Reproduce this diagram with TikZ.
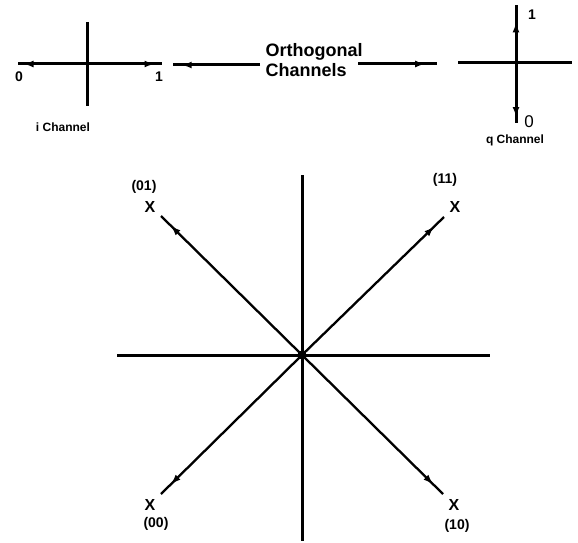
\documentclass[tikz,border=0pt]{standalone}
\usepackage{fontspec}
\setmainfont{Liberation Sans}
\usetikzlibrary{arrows.meta, decorations.markings}

\tikzset{
  axis/.style={line width=3pt},
  diag/.style={line width=2.3pt},
  lbl/.style={font=\bfseries\fontsize{14}{15}\selectfont, inner sep=1pt},
  small/.style={font=\bfseries\fontsize{12}{13}\selectfont, inner sep=1pt},
  bigx/.style={font=\bfseries\fontsize{16}{17}\selectfont, inner sep=1pt},
  tipat/.style={postaction={decorate}, decoration={markings,
      mark=at position #1 with {\arrow{Latex[length=10pt,width=7pt]}}}}
}

\begin{document}
\begin{tikzpicture}[x=1pt, y=-1pt]
  \useasboundingbox (0,0) rectangle (578,543);

  % i channel
  \coordinate (iL) at (18,64);
  \coordinate (iR) at (162,64);
  \coordinate (iT) at (87,22);
  \coordinate (iB) at (87,106);
  \coordinate (ic) at (87,64);
  \draw[axis, tipat=0.92] (ic) -- (iL);
  \draw[axis, tipat=0.9] (ic) -- (iR);
  \draw[axis] (iT) -- (iB);
  \node[lbl] (zeroi) at (19,77) {0};
  \node[lbl] (onei) at (159,77) {1};
  \node[small] (ich) at (63,127) {i Channel};

  % orthogonal channels
  \node[lbl, font=\bfseries\fontsize{18}{20}\selectfont, align=left] (orth) at (314,60) {Orthogonal\\Channels};
  \coordinate (oL) at (173,65);
  \coordinate (oLs) at (260,65);
  \coordinate (oR) at (437,64);
  \coordinate (oRs) at (358,64);
  \draw[axis, tipat=0.9] (oLs) -- (oL);
  \draw[axis, tipat=0.85] (oRs) -- (oR);

  % q channel
  \coordinate (qL) at (458,63);
  \coordinate (qR) at (572,63);
  \coordinate (qT) at (516,5);
  \coordinate (qB) at (516,123);
  \coordinate (qc) at (516,63);
  \draw[axis] (qL) -- (qR);
  \draw[axis, tipat=0.7] (qc) -- (qT);
  \draw[axis, tipat=0.9] (qc) -- (qB);
  \node[lbl] (oneq) at (532,15) {1};
  \node[lbl, font=\fontsize{17}{18}\selectfont] (zeroq) at (529,122) {0};
  \node[small] (qch) at (515,140) {q Channel};

  % constellation
  \coordinate (o) at (302,355);
  \coordinate (top) at (302,175);
  \coordinate (bot) at (302,541);
  \coordinate (lft) at (117,355);
  \coordinate (rgt) at (490,355);
  \draw[axis] (top) -- (bot);
  \draw[axis] (lft) -- (rgt);
  \fill (o) circle (4.5pt);

  \node[bigx] (x01) at (150,207) {X};
  \node[bigx] (x11) at (455,207) {X};
  \node[bigx] (x00) at (150,505) {X};
  \node[bigx] (x10) at (454,505) {X};
  \node[lbl] (l01) at (144,187) {(01)};
  \node[lbl] (l11) at (445,180) {(11)};
  \node[lbl] (l00) at (156,524) {(00)};
  \node[lbl] (l10) at (457,526) {(10)};

  \coordinate (e01) at (161,216);
  \coordinate (e11) at (444,217);
  \coordinate (e00) at (161,494);
  \coordinate (e10) at (443,494);
  \draw[diag, tipat=0.93] (o) -- (e01);
  \draw[diag, tipat=0.93] (o) -- (e11);
  \draw[diag, tipat=0.93] (o) -- (e00);
  \draw[diag, tipat=0.93] (o) -- (e10);
\end{tikzpicture}
\end{document}
